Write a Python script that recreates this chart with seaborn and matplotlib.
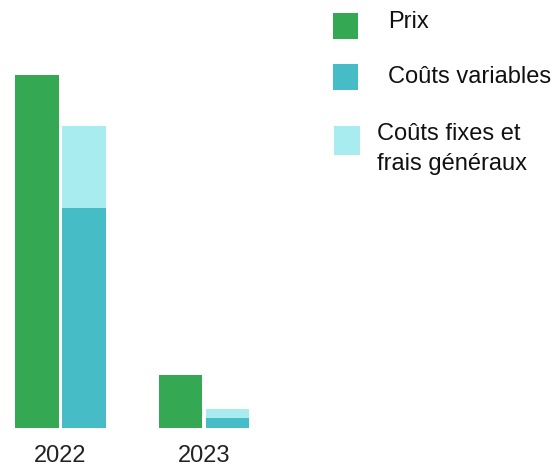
import pandas as pd
import seaborn as sns
import matplotlib.pyplot as plt
from matplotlib.patches import Rectangle

# data (arbitrary units, 2022 price = 100)
years = ["2022", "2023"]
prix = [100.0, 15.0]
couts_variables = [62.3, 2.8]
couts_fixes = [23.2, 2.5]

series_labels = ["Prix", "Coûts variables", "Coûts fixes et\nfrais généraux"]
green = "#34a853"
teal = "#46bdc6"
light = "#a8ecef"

sns.set_theme(style="white")
plt.rcParams["font.family"] = ["Liberation Sans", "DejaVu Sans"]

fig = plt.figure(figsize=(5.56, 4.66), dpi=100)
ax = fig.add_axes([0, 38 / 466, 1, 428 / 466])

totals = [v + f for v, f in zip(couts_variables, couts_fixes)]
df_top = pd.DataFrame({
    "year": years * 2,
    "serie": ["Prix"] * 2 + ["Coûts"] * 2,
    "value": prix + totals,
})
df_var = pd.DataFrame({
    "year": years * 2,
    "serie": ["Prix"] * 2 + ["Coûts"] * 2,
    "value": prix + couts_variables,
})

# light bars = variable + fixed, then variable drawn over it
sns.barplot(data=df_top, x="year", y="value", hue="serie",
            palette=[green, light], width=0.657, gap=0.08, saturation=1,
            linewidth=0, legend=False, ax=ax)
sns.barplot(data=df_var, x="year", y="value", hue="serie",
            palette=[green, teal], width=0.657, gap=0.08, saturation=1,
            linewidth=0, legend=False, ax=ax)

ax.set_xlim(-60.5 / 143.5, (556 - 60.5) / 143.5)
ax.set_ylim(0, 121.2)
ax.set_xlabel("")
ax.set_ylabel("")
ax.set_yticks([])
ax.tick_params(axis="x", length=0, pad=12, labelsize=17, labelcolor="#222222")
sns.despine(ax=ax, left=True, bottom=True)
ax.patch.set_alpha(0)

# legend, placed by hand
W, H = 556, 466
def box(x, y, w, h, c):
    fig.add_artist(Rectangle((x / W, 1 - (y + h) / H), w / W, h / H,
                             transform=fig.transFigure, facecolor=c,
                             edgecolor="none"))

def label(x, y, s):
    fig.text(x / W, 1 - y / H, s, fontsize=17, color="#111111",
             ha="left", va="baseline")

box(333, 13, 25, 26, green)
label(388, 28, series_labels[0])
box(333, 64, 25, 26, teal)
label(388, 83, series_labels[1])
box(334, 126, 26, 29, light)
first, second = series_labels[2].split("\n")
label(377, 140, first)
label(377, 170, second)

fig.savefig("out.png", dpi=100)
